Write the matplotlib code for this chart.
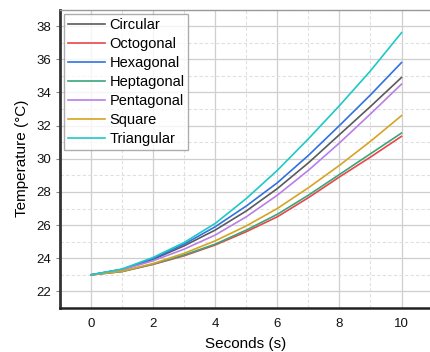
import matplotlib
matplotlib.use("Agg")
import matplotlib.pyplot as plt
from matplotlib.ticker import MultipleLocator

plt.rcParams['font.family'] = ['Liberation Sans', 'DejaVu Sans']

seconds = [0, 1, 2, 3, 4, 5, 6, 7, 8, 9, 10]
circular   = [23.0, 23.32, 23.93, 24.75, 25.70, 26.85, 28.20, 29.75, 31.45, 33.15, 34.90]
octogonal  = [23.0, 23.20, 23.63, 24.15, 24.80, 25.60, 26.50, 27.65, 28.90, 30.10, 31.35]
hexagonal  = [23.0, 23.33, 23.98, 24.85, 25.90, 27.15, 28.55, 30.20, 32.00, 33.85, 35.80]
heptagonal = [23.0, 23.20, 23.65, 24.20, 24.85, 25.70, 26.65, 27.80, 29.05, 30.30, 31.55]
pentagonal = [23.0, 23.30, 23.85, 24.55, 25.40, 26.50, 27.80, 29.30, 30.95, 32.70, 34.50]
square     = [23.0, 23.22, 23.68, 24.30, 25.05, 25.95, 27.00, 28.25, 29.60, 31.05, 32.60]
triangular = [23.0, 23.35, 24.05, 24.95, 26.10, 27.60, 29.30, 31.20, 33.20, 35.30, 37.60]

series = [
    ("Circular", circular, "#5a5a5a"),
    ("Octogonal", octogonal, "#e8474a"),
    ("Hexagonal", hexagonal, "#2f72e0"),
    ("Heptagonal", heptagonal, "#3aa57a"),
    ("Pentagonal", pentagonal, "#b97ee6"),
    ("Square", square, "#d6a424"),
    ("Triangular", triangular, "#1ec8c8"),
]

fig = plt.figure(figsize=(4.31, 3.52), dpi=100)
ax = fig.add_axes([60/431, 1-308/352, 1-60/431, (308-9.5)/352])

for name, vals, col in series:
    ax.plot(seconds, vals, color=col, lw=1.2, label=name)

ax.set_xlim(-1, 10.95)
ax.set_ylim(21, 39)
ax.xaxis.set_major_locator(MultipleLocator(2))
ax.xaxis.set_minor_locator(MultipleLocator(1))
ax.yaxis.set_major_locator(MultipleLocator(2))
ax.yaxis.set_minor_locator(MultipleLocator(1))
ax.grid(which='major', color='#cfcfcf', lw=0.9, ls='-')
ax.grid(which='minor', color='#e0e0e0', lw=0.8, ls=(0, (3, 2)))
ax.set_axisbelow(True)

ax.spines['left'].set_color('#333333')
ax.spines['left'].set_linewidth(2)
ax.spines['bottom'].set_color('#222222')
ax.spines['bottom'].set_linewidth(1.8)
ax.spines['top'].set_color('#999999')
ax.spines['top'].set_linewidth(1)
ax.spines['right'].set_visible(False)

ax.tick_params(which='major', labelsize=9.5, length=3, color='#888888', labelcolor='#111111')
ax.tick_params(which='minor', length=0)
ax.tick_params(axis='x', length=0, pad=7)

ax.set_xlabel("Seconds (s)", fontsize=11, labelpad=5)
ax.set_ylabel("Temperature (°C)", fontsize=11, labelpad=5)

leg = ax.legend(loc='upper left', bbox_to_anchor=(0.012, 0.985), fontsize=10.5,
                frameon=True, fancybox=False, edgecolor='#999999',
                handlelength=2.5, handletextpad=0.35, labelspacing=0.35,
                borderpad=0.25, borderaxespad=0.0)
leg.get_frame().set_linewidth(1.0)

fig.savefig("out.png", dpi=100)
